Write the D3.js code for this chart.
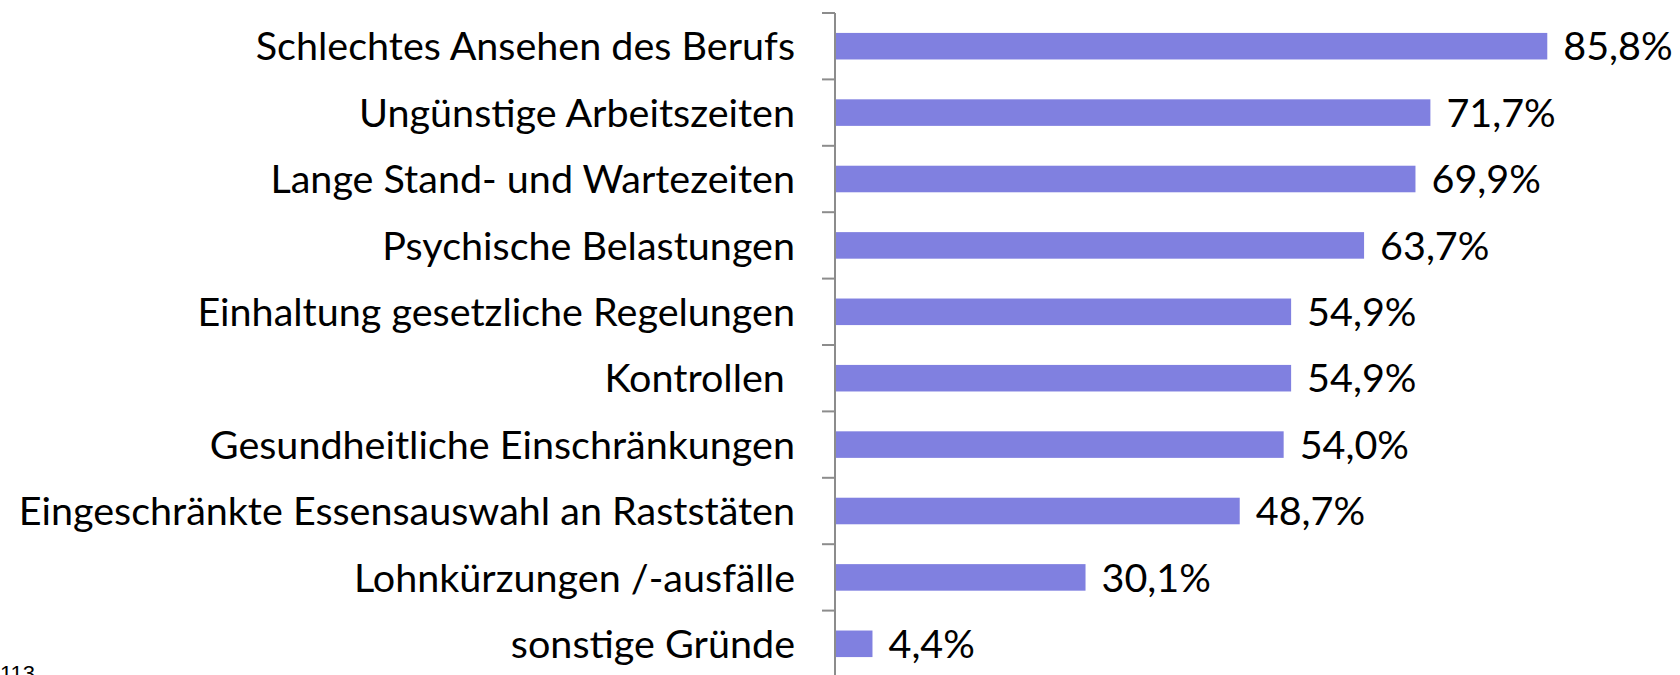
<!DOCTYPE html>
<html>
<head>
<meta charset="utf-8">
<script src="https://cdn.jsdelivr.net/npm/d3@7"></script>
<style>
  body { margin: 0; background: #fff; }
  svg { display: block; }
</style>
</head>
<body>
<div id="wrapper"></div>
<script>
// data
const categories = [
  "Schlechtes Ansehen des Berufs",
  "Ungünstige Arbeitszeiten",
  "Lange Stand- und Wartezeiten",
  "Psychische Belastungen",
  "Einhaltung gesetzliche Regelungen",
  "Kontrollen ",
  "Gesundheitliche Einschränkungen",
  "Eingeschränkte Essensauswahl an Raststäten",
  "Lohnkürzungen /-ausfälle",
  "sonstige Gründe"
]
const values = [85.8, 71.7, 69.9, 63.7, 54.9, 54.9, 54.0, 48.7, 30.1, 4.4]
const pageNote = "113"

// dimensions
const dimensions = {
  width: 1680,
  height: 675,
  margin: { top: 13, right: 15, bottom: -2, left: 836 }
}
dimensions.boundedWidth = dimensions.width - dimensions.margin.left - dimensions.margin.right
dimensions.boundedHeight = dimensions.height - dimensions.margin.top - dimensions.margin.bottom

const fontFamily = "Lato, 'Open Sans', sans-serif"
const fontSize = "39.5px"

const wrapper = d3.select("#wrapper")
  .append("svg")
    .attr("width", dimensions.width)
    .attr("height", dimensions.height)

const bounds = wrapper.append("g")
    .attr("transform", `translate(${dimensions.margin.left}, ${dimensions.margin.top})`)

// scales
const xScale = d3.scaleLinear()
  .domain([0, 100])
  .range([0, dimensions.boundedWidth])

const yScale = d3.scaleBand()
  .domain(categories)
  .range([0, dimensions.boundedHeight])
  .paddingInner(0.6)
  .paddingOuter(0.3)

const step = yScale.step()

// bars
bounds.selectAll("rect")
  .data(values)
  .join("rect")
    .attr("x", 0)
    .attr("y", (d, i) => yScale(categories[i]))
    .attr("width", d => xScale(d))
    .attr("height", yScale.bandwidth())
    .attr("fill", "#8080e0")

// value labels
bounds.selectAll(".value")
  .data(values)
  .join("text")
    .attr("class", "value")
    .attr("x", d => xScale(d) + 16)
    .attr("y", (d, i) => yScale(categories[i]) + yScale.bandwidth() / 2)
    .attr("dy", "0.36em")
    .style("font-family", fontFamily)
    .style("font-size", fontSize)
    .attr("fill", "#000")
    .text(d => d.toFixed(1).replace(".", ",") + "%")

// axis line and ticks between categories
const axis = bounds.append("g").attr("transform", "translate(-1, 0)")
axis.append("line")
    .attr("x1", 0).attr("x2", 0)
    .attr("y1", 0).attr("y2", dimensions.boundedHeight)
    .attr("stroke", "#8c8c8c")
    .attr("stroke-width", 2)
axis.selectAll(".tick")
  .data(d3.range(categories.length))
  .join("line")
    .attr("class", "tick")
    .attr("x1", -13).attr("x2", 0)
    .attr("y1", i => i * step)
    .attr("y2", i => i * step)
    .attr("stroke", "#8c8c8c")
    .attr("stroke-width", 2)

// category labels
bounds.selectAll(".cat")
  .data(categories)
  .join("text")
    .attr("class", "cat")
    .attr("x", -41)
    .attr("y", d => yScale(d) + yScale.bandwidth() / 2)
    .attr("dy", "0.36em")
    .attr("text-anchor", "end")
    .style("font-family", fontFamily)
    .style("font-size", fontSize)
    .style("white-space", "pre")
    .attr("fill", "#000")
    .text(d => d)

wrapper.append("text")
    .attr("x", 0)
    .attr("y", 681)
    .style("font-family", "'Liberation Sans', Arial, sans-serif")
    .style("font-size", "22px")
    .attr("fill", "#000")
    .text(pageNote)
</script>
</body>
</html>
